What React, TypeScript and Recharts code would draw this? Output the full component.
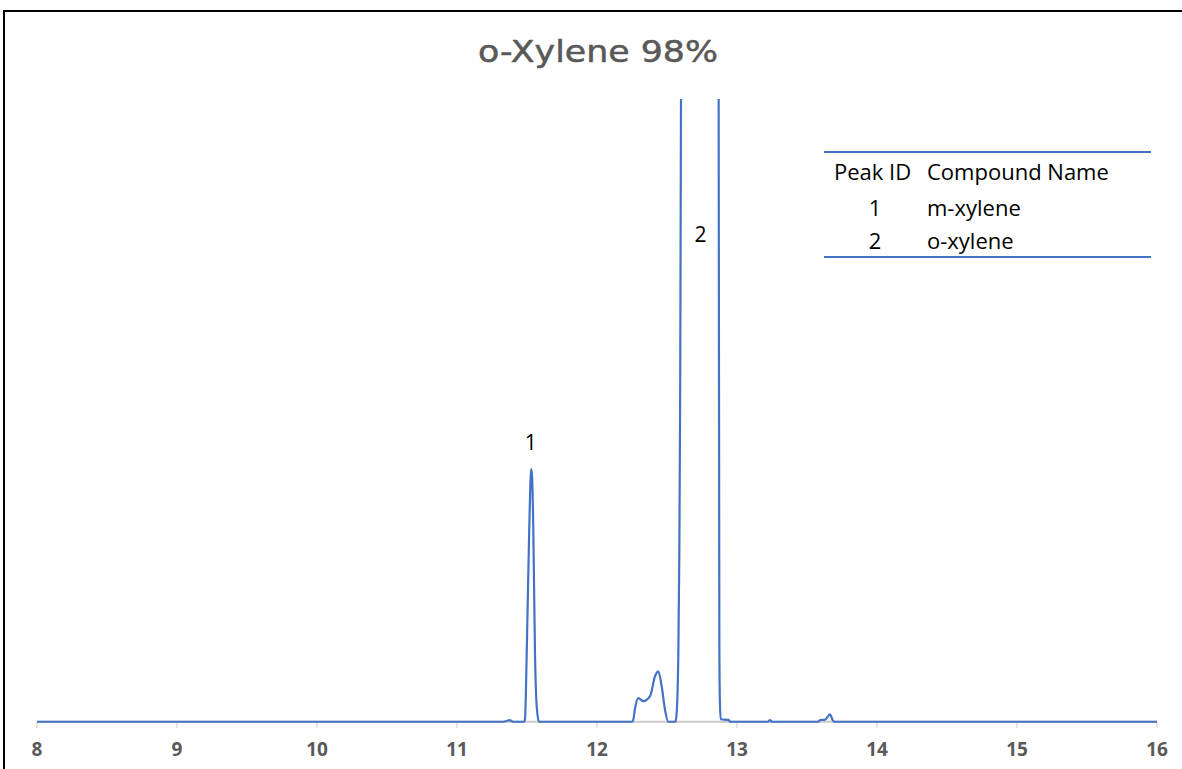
import { Line, LineChart, ReferenceDot, ReferenceLine, XAxis, YAxis } from 'recharts'

// Retention time (min) and detector signal (% of plot height).
const TIMES = [
  8, 11.33, 11.365, 11.375, 11.385, 11.40, 11.48, 11.486, 11.498, 11.516, 11.53, 11.537, 11.545, 11.557, 11.571, 11.586,
  12.25, 12.259, 12.272, 12.295, 12.331, 12.379, 12.414, 12.438, 12.462, 12.486, 12.509,
  12.56, 12.569, 12.581, 12.588, 12.593, 12.6, 12.61, 12.74, 12.862, 12.869, 12.872, 12.874, 12.878, 12.884, 12.94, 12.95,
  13.22, 13.236, 13.25, 13.58, 13.59, 13.63, 13.664, 13.685, 13.70, 16,
]
const SIGNAL = [
  0, 0, 0.2, 0.28, 0.2, 0, 0, 0.5, 11, 31, 40.6, 39, 31, 11, 2, 0,
  0, 0.3, 2.2, 3.8, 3.3, 4.1, 7.3, 8.1, 5.7, 1.9, 0,
  0, 1.4, 11, 27, 48, 100, 400, 2500, 400, 100, 45, 12, 3, 0.4, 0.3, 0,
  0, 0.25, 0, 0, 0.25, 0.35, 1.2, 0.2, 0, 0,
]
const X_TICKS = [8, 9, 10, 11, 12, 13, 14, 15, 16]

const PEAK_IDS = ['1', '2']
const PEAK_TIMES = [11.527, 12.74]
const PEAK_LABEL_Y = [44.8, 78.2]

const COMPOUNDS = ['m-xylene', 'o-xylene']

const BLUE = '#4472C4'
const AXIS_GREY = '#c9c9c9'
const TEXT_GREY = '#595959'

const data = TIMES.map((t, i) => ({ t, v: SIGNAL[i] }))

export default function App() {
  return (
    <div style={{ position: 'fixed', left: 0, top: 0, width: 1182, height: 769, overflow: 'hidden', background: '#fff' }}>
      <div style={{ position: 'absolute', left: 3, top: 10, width: 1300, height: 900, border: '2px solid #000' }} />
      <div style={{ position: 'absolute', left: 0, top: 0 }}>
        <LineChart width={1182} height={769} data={data} margin={{ top: 99, right: 25, left: 37, bottom: 11 }}>
          <XAxis
            dataKey="t"
            type="number"
            domain={[8, 16]}
            ticks={X_TICKS}
            axisLine={false}
            tickLine={false}
            tickSize={6}
            tickMargin={9}
            height={30}
            tick={{ fontSize: 19, fontWeight: 700, fill: TEXT_GREY, fontFamily: 'Open Sans' }}
          />
          <YAxis hide domain={[-1, 100]} allowDataOverflow />
          <ReferenceLine y={0} stroke={AXIS_GREY} strokeWidth={2} />
          {X_TICKS.map((t) => (
            <ReferenceLine key={t} segment={[{ x: t, y: 0 }, { x: t, y: -1 }]} stroke={AXIS_GREY} strokeWidth={1} />
          ))}
          <Line type="monotone" dataKey="v" stroke={BLUE} strokeWidth={2.2} dot={false} isAnimationActive={false} />
          {PEAK_IDS.map((id, i) => (
            <ReferenceDot
              key={id}
              x={PEAK_TIMES[i]}
              y={PEAK_LABEL_Y[i]}
              r={0}
              fill="none"
              stroke="none"
              label={{ value: id, position: 'center', fontSize: 21, fill: '#000', fontFamily: 'Open Sans' }}
            />
          ))}
        </LineChart>
      </div>
      <svg width={1182} height={769} style={{ position: 'absolute', left: 0, top: 0, pointerEvents: 'none' }}>
        <text x={598} y={62} textAnchor="middle" fontFamily="DejaVu Sans" fontSize={30} fill={TEXT_GREY}
          stroke={TEXT_GREY} strokeWidth={0.5} textLength={240} lengthAdjust="spacingAndGlyphs">
          o-Xylene 98%
        </text>
        <line x1={824} x2={1151} y1={152} y2={152} stroke={BLUE} strokeWidth={2} />
        <line x1={824} x2={1151} y1={257} y2={257} stroke={BLUE} strokeWidth={2} />
        <g fontFamily="Open Sans" fontSize={22} fill="#000">
          <text x={834} y={180}>Peak ID</text>
          <text x={927} y={180}>Compound Name</text>
          {COMPOUNDS.map((name, i) => (
            <g key={name}>
              <text x={875} y={216 + i * 33} textAnchor="middle">{PEAK_IDS[i]}</text>
              <text x={927} y={216 + i * 33}>{name}</text>
            </g>
          ))}
        </g>
      </svg>
    </div>
  )
}
